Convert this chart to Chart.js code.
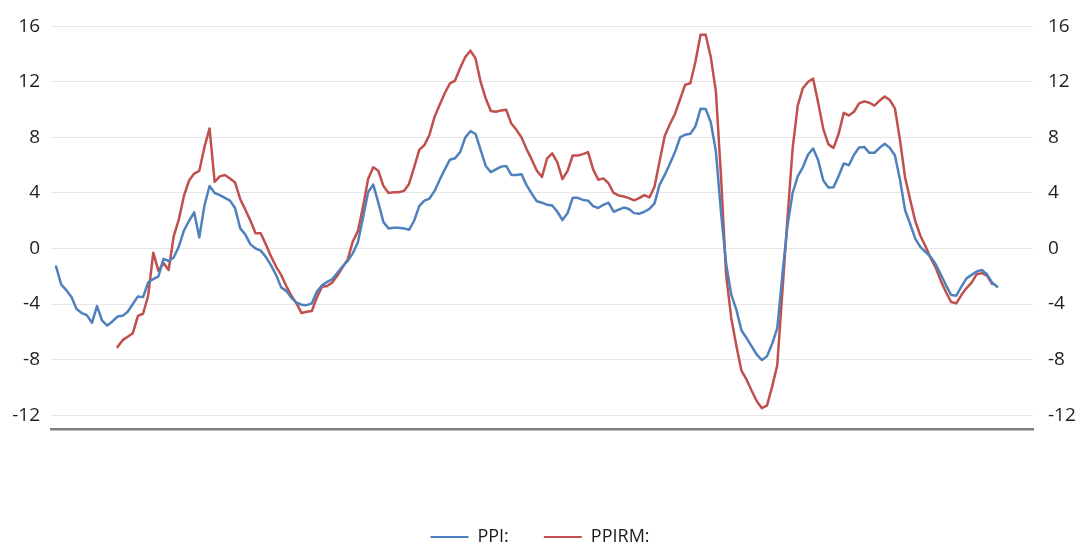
<!DOCTYPE html>
<html>
<head>
<meta charset="utf-8">
<script src="https://cdn.jsdelivr.net/npm/chart.js@4.4.1/dist/chart.umd.min.js"></script>
<style>
  html, body { margin: 0; padding: 0; background: #ffffff; overflow: hidden; }
  #wrap { width: 1080px; height: 544px; overflow: hidden; position: relative; }
  canvas { display: block; }
</style>
</head>
<body>
<div id="wrap"><canvas id="c" width="1080" height="556"></canvas></div>
<script>
// ---- DATA (monthly) ----
const startYear = 1998;           // first category: Jan 1998 (left edge, empty)
const categoryCount = 193;        // Jan 1998 .. Jan 2014
const ppiStartIndex = 1;          // PPI begins at the 2nd category
const ppirmStartIndex = 13;       // PPIRM begins at the 14th category

const ppi = [
  -1.3, -2.6, -3.0, -3.5, -4.35, -4.65, -4.8, -5.35, -4.15, -5.2,
  -5.55, -5.25, -4.9, -4.85, -4.55, -4.0, -3.45, -3.5, -2.45, -2.2,
  -2.0, -0.75, -0.9, -0.65, 0.15, 1.3, 2.0, 2.6, 0.8, 3.1,
  4.5, 4.0, 3.85, 3.65, 3.45, 2.9, 1.45, 1.0, 0.3, 0.0,
  -0.15, -0.6, -1.2, -1.9, -2.8, -3.05, -3.55, -3.9, -4.05, -4.08,
  -3.95, -3.1, -2.65, -2.4, -2.2, -1.75, -1.3, -0.9, -0.35, 0.45,
  2.2, 4.05, 4.6, 3.3, 1.9, 1.45, 1.5, 1.5, 1.45, 1.35,
  2.0, 3.05, 3.45, 3.6, 4.15, 4.95, 5.7, 6.4, 6.5, 6.95,
  8.0, 8.45, 8.25, 7.1, 5.95, 5.5, 5.7, 5.9, 5.95, 5.3,
  5.3, 5.35, 4.55, 3.95, 3.4, 3.3, 3.15, 3.1, 2.65, 2.05,
  2.55, 3.65, 3.65, 3.5, 3.45, 3.05, 2.92, 3.15, 3.3, 2.65,
  2.8, 2.95, 2.85, 2.55, 2.5, 2.65, 2.85, 3.25, 4.6, 5.3,
  6.1, 6.95, 8.0, 8.2, 8.27, 8.8, 10.06, 10.05, 9.1, 7.0,
  2.6, -1.1, -3.3, -4.4, -5.9, -6.45, -7.05, -7.65, -8.04, -7.75,
  -6.85, -5.75, -1.9, 1.65, 4.0, 5.2, 5.85, 6.75, 7.2, 6.35,
  4.9, 4.4, 4.42, 5.23, 6.13, 6.0, 6.75, 7.27, 7.32, 6.89,
  6.9, 7.25, 7.55, 7.25, 6.7, 4.95, 2.75, 1.75, 0.7, 0.1,
  -0.25, -0.6, -1.15, -1.9, -2.65, -3.35, -3.4, -2.75, -2.15, -1.9,
  -1.65, -1.55, -1.85, -2.45, -2.75
];

const ppirm = [
  -7.1, -6.6, -6.35, -6.1, -4.85, -4.7, -3.4, -0.3, -1.6, -1.05,
  -1.55, 0.9, 2.1, 3.8, 4.9, 5.4, 5.6, 7.3, 8.65, 4.8,
  5.2, 5.3, 5.05, 4.75, 3.55, 2.8, 2.0, 1.1, 1.1, 0.3,
  -0.55, -1.3, -1.9, -2.7, -3.4, -3.95, -4.65, -4.55, -4.5, -3.5,
  -2.75, -2.7, -2.45, -1.95, -1.35, -0.8, 0.5, 1.25, 3.0, 5.0,
  5.85, 5.6, 4.5, 4.0, 4.05, 4.05, 4.15, 4.65, 5.85, 7.1,
  7.45, 8.2, 9.5, 10.35, 11.2, 11.9, 12.1, 13.0, 13.8, 14.25,
  13.7, 12.0, 10.8, 9.9, 9.85, 9.95, 10.0, 9.0, 8.55, 8.0,
  7.15, 6.4, 5.6, 5.15, 6.5, 6.85, 6.2, 5.0, 5.6, 6.7,
  6.7, 6.8, 6.95, 5.7, 4.95, 5.05, 4.7, 4.0, 3.82, 3.75,
  3.63, 3.47, 3.63, 3.85, 3.68, 4.45, 6.3, 8.1, 8.95, 9.7,
  10.75, 11.8, 11.9, 13.45, 15.4, 15.4, 13.8, 11.3, 5.2, -1.9,
  -5.0, -7.0, -8.8, -9.45, -10.25, -11.0, -11.5, -11.3, -9.95, -8.4,
  -3.1, 2.2, 7.2, 10.3, 11.55, 12.0, 12.25, 10.5, 8.6, 7.5,
  7.25, 8.27, 9.77, 9.58, 9.85, 10.45, 10.6, 10.5, 10.3, 10.65,
  10.95, 10.7, 10.1, 7.8, 5.1, 3.5, 1.95, 0.9, 0.15, -0.7,
  -1.4, -2.35, -3.15, -3.85, -3.95, -3.35, -2.85, -2.45, -1.85, -1.77,
  -1.95, -2.55
];

const yTicks = [-12, -8, -4, 0, 4, 8, 12, 16];
const yMin = -13;
const yMax = 16;
const seriesNames = ['PPI:', 'PPIRM:'];

// ---- build library structures ----
const categories = [];
for (let i = 0; i < categoryCount; i++) {
  const y = startYear + Math.floor(i / 12);
  const m = (i % 12) + 1;
  categories.push(y + '-' + (m < 10 ? '0' + m : m));
}
function place(values, start) {
  const arr = new Array(categoryCount).fill(null);
  values.forEach((v, k) => { arr[start + k] = v; });
  return arr;
}

const BLUE = '#4f81bd';
const RED = '#c0504d';
const FONT = '"Open Sans", "Noto Sans", "DejaVu Sans", sans-serif';

new Chart(document.getElementById('c'), {
  type: 'line',
  data: {
    labels: categories,
    datasets: [
      {
        label: seriesNames[0],
        data: place(ppi, ppiStartIndex),
        borderColor: BLUE,
        backgroundColor: BLUE,
        borderWidth: 2.5,
        pointRadius: 0,
        tension: 0,
        borderJoinStyle: 'round',
        borderCapStyle: 'round',
        yAxisID: 'y'
      },
      {
        label: seriesNames[1],
        data: place(ppirm, ppirmStartIndex),
        borderColor: RED,
        backgroundColor: RED,
        borderWidth: 2.5,
        pointRadius: 0,
        tension: 0,
        borderJoinStyle: 'round',
        borderCapStyle: 'round',
        yAxisID: 'y'
      }
    ]
  },
  options: {
    responsive: false,
    animation: false,
    devicePixelRatio: 1,
    layout: { padding: { top: 23, left: 0, right: 0, bottom: 0 } },
    plugins: {
      tooltip: { enabled: false },
      legend: {
        position: 'bottom',
        labels: {
          boxWidth: 38,
          boxHeight: 2,
          padding: 35,
          color: '#1a1a1a',
          font: { family: FONT, size: 18 },
          generateLabels(chart) {
            const items = Chart.defaults.plugins.legend.labels.generateLabels(chart);
            items.forEach(it => { it.fillStyle = it.strokeStyle; it.lineWidth = 0; });
            return items;
          }
        }
      }
    },
    scales: {
      x: {
        type: 'category',
        offset: false,
        grid: { display: false, drawTicks: false },
        border: { display: true, color: '#7f7f7f', width: 2.5 },
        ticks: { display: false },
        afterFit(scale) { scale.height = 64; }
      },
      y: {
        position: 'left',
        min: yMin,
        max: yMax,
        afterBuildTicks(scale) { scale.ticks = yTicks.map(v => ({ value: v })); },
        grid: { color: '#e6e6e6', lineWidth: 1, drawTicks: false },
        border: { display: false },
        ticks: { padding: 11, color: '#1f1f1f', font: { family: FONT, size: 19 } },
        afterFit(scale) { scale.width = 51; }
      },
      y2: {
        position: 'right',
        min: yMin,
        max: yMax,
        afterBuildTicks(scale) { scale.ticks = yTicks.map(v => ({ value: v })); },
        grid: { display: false, drawTicks: false },
        border: { display: false },
        ticks: { padding: 15, color: '#1f1f1f', font: { family: FONT, size: 19 } },
        afterFit(scale) { scale.width = 47; }
      }
    }
  }
});
</script>
</body>
</html>
